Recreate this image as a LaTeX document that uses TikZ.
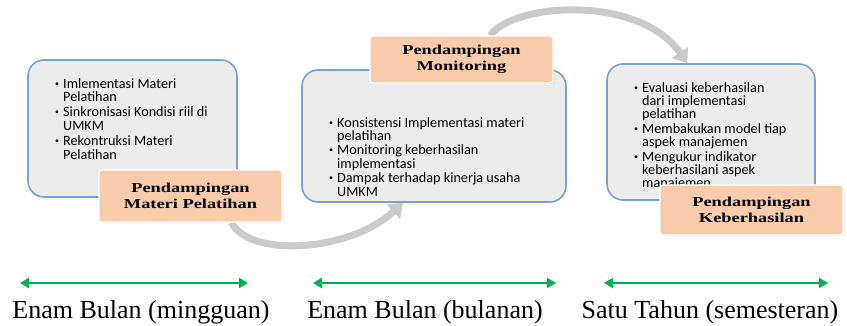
\documentclass[tikz,border=0pt]{standalone}
\usepackage{fontspec}
\setmainfont{Liberation Serif}
\newfontfamily\bulfont{Carlito}
\newfontfamily\titfont[FakeStretch=1.35]{Liberation Serif}
\usetikzlibrary{arrows.meta,shadows,backgrounds}
\definecolor{boxgray}{RGB}{236,236,236}
\definecolor{boxblue}{RGB}{121,162,212}
\definecolor{peach}{RGB}{248,203,173}
\definecolor{arrgray}{RGB}{202,202,202}
\definecolor{timegreen}{RGB}{0,176,80}
\newcommand\itm{\llap{\raisebox{2pt}{\fontsize{8}{8}\selectfont\textbullet}\hspace{4pt}}}
\begin{document}
\begin{tikzpicture}[x=1pt, y=-1pt, line join=round, line cap=round,
	stage/.style={draw=boxblue, line width=1.6pt, fill=boxgray, rounded corners=16pt},
	title/.style={draw=white, line width=1.2pt, fill=peach, rounded corners=3pt,
		minimum width=183, align=center, font=\titfont\bfseries\fontsize{13.6}{15.5}\selectfont,
		drop shadow={opacity=.25, shadow xshift=1pt, shadow yshift=-1pt}},
	points/.style={anchor=north west, inner sep=0pt, align=left,
		font=\bulfont\fontsize{14.2}{13.2}\selectfont},
	flow/.style={line width=7pt, arrgray, line cap=butt, -{Triangle[length=13pt, width=19pt]}},
	span/.style={line width=2pt, timegreen, {Triangle[length=9pt, width=10pt]}-{Triangle[length=9pt, width=10pt]}},
	period/.style={anchor=base, font=\fontsize{26}{30}\selectfont}]
	\useasboundingbox (0,0) rectangle (847,326);
	% stages
	\node[stage, minimum width=209, minimum height=137] (mat) at (132.5,128.5) {};
	\node[stage, minimum width=264, minimum height=132] (mon) at (434,136) {};
	\node[stage, minimum width=208, minimum height=136] (eva) at (711,132) {};
	\node[points, font=\bulfont\fontsize{14.2}{13.8}\selectfont] (matp) at (63,78) {\itm Imlementasi Materi\\ Pelatihan\\[1pt]
		\itm Sinkronisasi Kondisi riil di\\ UMKM\\[1pt]
		\itm Rekontruksi Materi\\ Pelatihan};
	\node[points] (monp) at (337,117) {\itm Konsistensi Implementasi materi\\ pelatihan\\[1.5pt]
		\itm Monitoring keberhasilan\\ implementasi\\[1.5pt]
		\itm Dampak terhadap kinerja usaha\\ UMKM};
	\node[points] (evap) at (642,82.5) {\itm Evaluasi keberhasilan\\ dari implementasi\\ pelatihan\\[1.5pt]
		\itm Membakukan model tiap\\ aspek manajemen\\[1.5pt]
		\itm Mengukur indikator\\ keberhasilani aspek\\ manajemen};
	\node[title, minimum height=52] (matt) at (190.5,196) {Pendampingan\\Materi Pelatihan};
	\node[title, minimum height=47] (mont) at (461.5,59.5) {Pendampingan\\Monitoring};
	\node[title, minimum height=50] (evat) at (751.5,210) {Pendampingan\\Keberhasilan};
	% curved arrows
	\begin{scope}[on background layer]
	\draw[flow] (matt.-33) .. controls (250,258) and (350,252) .. (mon.-115);
	\draw[flow] (mont.40) .. controls (515,2) and (640,-5) .. (eva.109);
	\end{scope}
	% time spans
	\path
	(20,283) coordinate (w1) (248,283) coordinate (e1)
	(313,283) coordinate (w2) (556,283) coordinate (e2)
	(604,283) coordinate (w3) (828,283) coordinate (e3);
	\foreach \a/\b in {w1/e1, w2/e2, w3/e3}
	\draw[span] (\a) -- (\b);
	\node[period] (t1) at (141,318) {Enam Bulan (mingguan)};
	\node[period] (t2) at (425,318) {Enam Bulan (bulanan)};
	\node[period] (t3) at (710,318) {Satu Tahun (semesteran)};
\end{tikzpicture}
\end{document}
